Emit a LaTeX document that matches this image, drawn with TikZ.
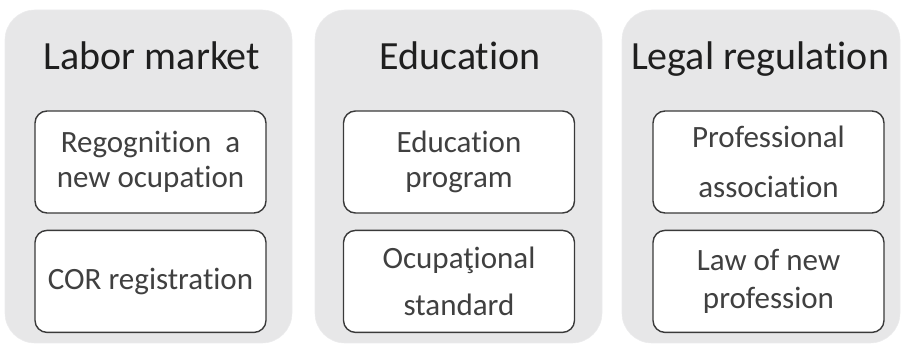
\documentclass[tikz,border=0pt]{standalone}
\usepackage{fontspec}
\setmainfont{Carlito}[RawFeature=-liga]
\usepackage{tikz}
\usetikzlibrary{positioning}
\definecolor{panelgray}{HTML}{E7E7E8}
\definecolor{boxline}{HTML}{3A3A3A}
\definecolor{bodytext}{HTML}{404040}

\begin{document}
\begin{tikzpicture}[x=1pt,y=-1pt,
    panel/.style={fill=panelgray, draw=panelgray!90!black!40, line width=0.6pt, rounded corners=30pt, minimum height=333pt, inner sep=0pt},
    title/.style={anchor=base, text=black!88, font=\fontsize{40}{44}\selectfont},
    box/.style={draw=boxline, fill=white, line width=1.4pt, rounded corners=12pt, minimum width=231pt, minimum height=102pt, inner sep=0pt, align=center, text=bodytext, font=\fontsize{31}{35}\selectfont}]
        \useasboundingbox (0,0) rectangle (905,344);
        % background panels
        \node[panel, minimum width=287pt] (labor) at (148.5,176.5) {};
        \node[panel, minimum width=287pt] (edu) at (458.5,176.5) {};
        \node[panel, minimum width=278pt] (legal) at (761,176.5) {};
        % panel titles
        \node[title] (laborT) at (152,70) {Labor market};
        \node[title] (eduT) at (460,70) {Education};
        \node[title] (legalT) at (760,70) {Legal regulation};
        % boxes
        \node[box] (recog) at (150.5,162) {Regognition~ a\\new ocupation};
        \node[box, below=16pt of recog] (cor) {COR registration};
        \node[box] (prog) at (459,162) {Education\\program};
        \node[box, below=16pt of prog] (std) {Ocupaţional\\[12pt]standard};
        \node[box] (assoc) at (768.5,162) {Professional\\[15pt]association};
        \node[box, below=16pt of assoc] (law) {Law of new\\[3pt]profession};
    \end{tikzpicture}
\end{document}
